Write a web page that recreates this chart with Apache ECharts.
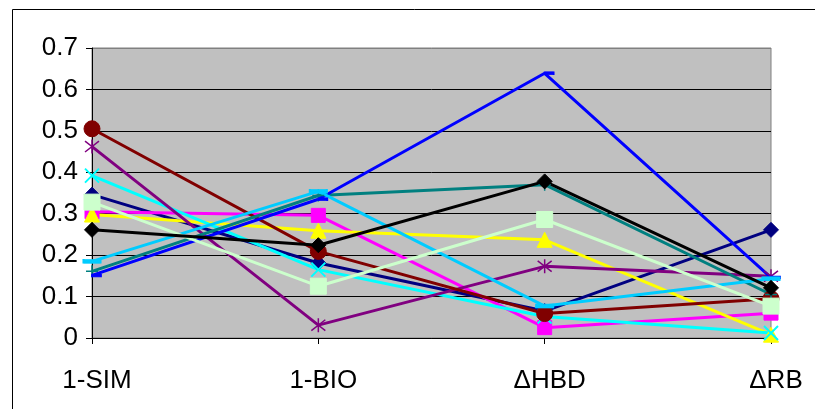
<!DOCTYPE html>
<html>
<head>
<meta charset="utf-8">
<script src="https://cdn.jsdelivr.net/npm/echarts@6/dist/echarts.min.js"></script>
<style>
  html, body { margin: 0; padding: 0; background: #fff; }
  #chart { width: 815px; height: 409px; }
</style>
</head>
<body>
<div id="chart"></div>
<script>
// Categories along the x axis
const categories = ['1-SIM', '1-BIO', '\u0394HBD', '\u0394RB'];

// Values for each compound series
const navyDiamond   = [0.346, 0.181, 0.065, 0.261];
const magentaSquare = [0.305, 0.296, 0.025, 0.060];
const yellowTri     = [0.298, 0.259, 0.237, 0.008];
const cyanCross     = [0.392, 0.165, 0.052, 0.012];
const purpleStar    = [0.462, 0.031, 0.173, 0.149];
const maroonCircle  = [0.505, 0.209, 0.059, 0.095];
const tealPlus      = [0.161, 0.344, 0.370, 0.105];
const blueDash      = [0.151, 0.335, 0.639, 0.146];
const skyDash       = [0.185, 0.354, 0.077, 0.143];
const greenSquare   = [0.328, 0.125, 0.286, 0.077];
const blackDiamond  = [0.261, 0.224, 0.378, 0.121];

// Y axis ticks
const yTicks = [0, 0.1, 0.2, 0.3, 0.4, 0.5, 0.6, 0.7];

const FONT = 'Liberation Sans, Arial, sans-serif';

const crossPath = 'path://M0,0 L10,10 M10,0 L0,10';
const starPath = 'path://M0,0 L10,10 M10,0 L0,10 M5,-1.5 L5,11.5';
const plusPath = 'path://M5,0 L5,10 M0,5 L10,5';

function lineSeries(data, color, symbol, size, extra) {
  const s = {
    type: 'line',
    data: data,
    smooth: false,
    symbol: symbol,
    symbolSize: size,
    showAllSymbol: true,
    lineStyle: { color: color, width: 3 },
    itemStyle: { color: color, borderColor: color, borderWidth: 1, opacity: 1 },
    emphasis: { disabled: true },
    animation: false
  };
  return Object.assign(s, extra || {});
}

function strokeSymbol(color, width) {
  return { color: 'rgba(0,0,0,0)', borderColor: color, borderWidth: width, opacity: 1 };
}

const chart = echarts.init(document.getElementById('chart'), null, { renderer: 'canvas' });

chart.setOption({
  animation: false,
  backgroundColor: '#ffffff',
  graphic: [{
    type: 'rect',
    shape: { x: 12.5, y: 9.5, width: 900, height: 500 },
    style: { fill: 'none', stroke: '#000', lineWidth: 1 },
    z: 0
  }],
  grid: {
    left: 92, right: 44, top: 48, bottom: 71,
    show: true,
    backgroundColor: '#C0C0C0',
    borderColor: '#808080',
    borderWidth: 1
  },
  xAxis: {
    type: 'category',
    data: categories,
    boundaryGap: false,
    axisLine: { lineStyle: { color: '#000', width: 1 } },
    axisTick: { show: true, length: 6, inside: false, lineStyle: { color: '#000' } },
    axisLabel: { color: '#000', fontSize: 26, fontFamily: FONT, margin: 30, padding: [0, 0, 0, 10] },
    splitLine: { show: false }
  },
  yAxis: {
    type: 'value',
    min: yTicks[0],
    max: yTicks[yTicks.length - 1],
    interval: 0.1,
    axisLine: { show: true, lineStyle: { color: '#000', width: 1 } },
    axisTick: { show: true, length: 6, inside: false, lineStyle: { color: '#000' } },
    axisLabel: {
      color: '#000', fontSize: 26, fontFamily: FONT, margin: 14,
      formatter: v => String(Math.round(v * 10) / 10)
    },
    splitLine: {
      show: true,
      lineStyle: {
        color: ['#000', '#000', '#000', '#000', '#000', '#000', '#000', '#808080'],
        width: 1
      }
    }
  },
  series: [
    lineSeries(navyDiamond, '#000080', 'diamond', 15),
    lineSeries(magentaSquare, '#FF00FF', 'rect', 14),
    lineSeries(yellowTri, '#FFFF00', 'triangle', 15),
    lineSeries(cyanCross, '#00FFFF', crossPath, 14, { itemStyle: strokeSymbol('#00FFFF', 2) }),
    lineSeries(purpleStar, '#800080', starPath, 14, { itemStyle: strokeSymbol('#800080', 1.5) }),
    lineSeries(maroonCircle, '#800000', 'circle', 16),
    lineSeries(tealPlus, '#008080', plusPath, 12, { itemStyle: strokeSymbol('#008080', 1.5) }),
    lineSeries(blueDash, '#0000FF', 'rect', [9, 3], { symbolOffset: [4.5, 0] }),
    lineSeries(skyDash, '#00CCFF', 'rect', [17, 4]),
    lineSeries(greenSquare, '#CCFFCC', 'rect', 16),
    lineSeries(blackDiamond, '#000000', 'diamond', 15)
  ]
});
</script>
</body>
</html>
